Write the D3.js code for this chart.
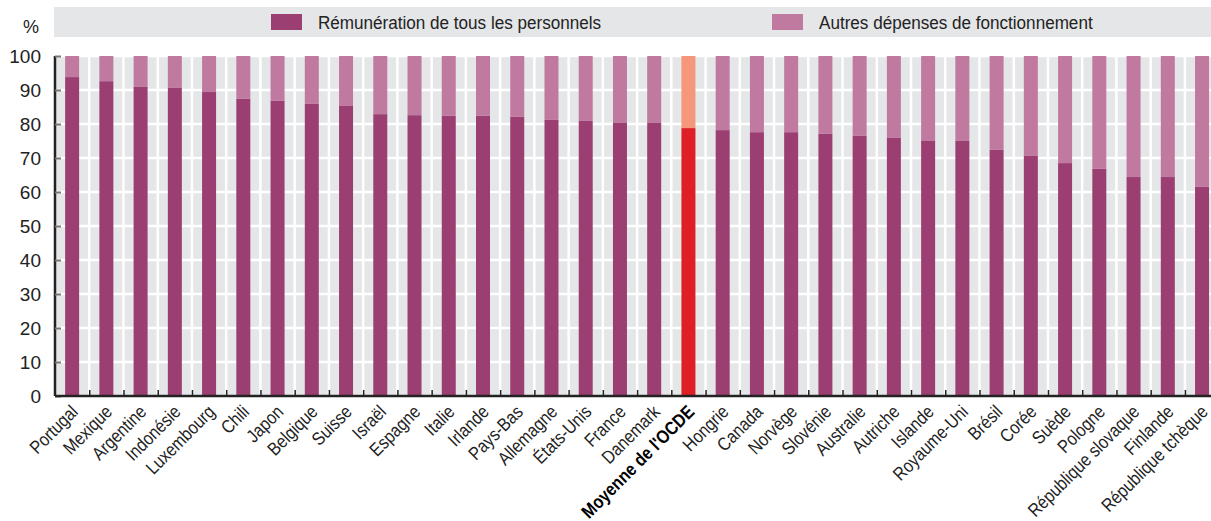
<!DOCTYPE html>
<html><head><meta charset="utf-8">
<script src="https://cdn.jsdelivr.net/npm/d3@7"></script>
<style>
body{margin:0;background:#fff;}
svg{display:block;font-family:"Liberation Sans","Arial",sans-serif;}
</style></head>
<body><svg id="c" width="1211" height="521"></svg>
<script>
const categories = ["Portugal","Mexique","Argentine","Indonésie","Luxembourg","Chili","Japon","Belgique","Suisse","Israël","Espagne","Italie","Irlande","Pays-Bas","Allemagne","États-Unis","France","Danemark","Moyenne de l'OCDE","Hongrie","Canada","Norvège","Slovénie","Australie","Autriche","Islande","Royaume-Uni","Brésil","Corée","Suède","Pologne","République slovaque","Finlande","République tchèque"];
const remuneration = [93.8,92.6,90.9,90.6,89.4,87.4,86.8,85.9,85.3,82.9,82.6,82.4,82.4,82.1,81.2,80.9,80.3,80.3,78.8,78.2,77.6,77.6,77.1,76.5,75.9,75.0,75.0,72.4,70.6,68.5,66.8,64.4,64.4,61.5];
const autres = remuneration.map(v => +(100 - v).toFixed(1));
const seriesNames = ["Rémunération de tous les personnels","Autres dépenses de fonctionnement"];
const yTicks = [0,10,20,30,40,50,60,70,80,90,100];
const highlight = "Moyenne de l'OCDE";

(function(){
const colDark = "#9b3e72", colLight = "#c07aa0", colHiDark = "#de1f25", colHiLight = "#f4977a";
const bg = "#e5e6e8";

const svg = d3.select("#c");
const pLeft = 55, pTop = 56, pBottom = 396, step = 34.24;
const pRight = pLeft + step * categories.length;

const x = d3.scaleBand().domain(categories).range([pLeft, pRight]).padding(0);
const xb = d3.scaleLinear().domain([0, categories.length]).range([pLeft, pRight]);
const y = d3.scaleLinear().domain([0, 100]).range([pBottom, pTop]);
const bw = 14;

// legend band
svg.append("rect").attr("x", 54).attr("y", 7).attr("width", 1211 - 54).attr("height", 30).attr("fill", bg);
const legend = [{n: seriesNames[0], c: colDark, x: 271}, {n: seriesNames[1], c: colLight, x: 772}];
legend.forEach(l => {
  svg.append("rect").attr("x", l.x).attr("y", 14).attr("width", 31).attr("height", 16).attr("fill", l.c);
  svg.append("text").attr("transform", `translate(${l.x + 47},28.5) scale(0.925,1)`)
    .attr("font-size", 18.5).attr("fill", "#222").text(l.n);
});

// plot background
svg.append("rect").attr("x", pLeft).attr("y", pTop).attr("width", pRight - pLeft).attr("height", pBottom - pTop).attr("fill", bg);
// horizontal grid
svg.append("g").selectAll("line").data(yTicks).join("line")
  .attr("x1", pLeft).attr("x2", pRight).attr("y1", d => y(d)).attr("y2", d => y(d))
  .attr("stroke", "#fff").attr("stroke-width", 2.5);
// vertical grid at category boundaries
svg.append("g").selectAll("line").data(d3.range(1, categories.length)).join("line")
  .attr("x1", d => xb(d)).attr("x2", d => xb(d)).attr("y1", pTop).attr("y2", pBottom)
  .attr("stroke", "#fff").attr("stroke-width", 2.5);

// bars
const g = svg.append("g");
categories.forEach((c, i) => {
  const hi = c === highlight;
  const cx = x(c) + x.bandwidth() / 2;
  g.append("rect").attr("x", cx - bw / 2).attr("width", bw)
    .attr("y", y(remuneration[i])).attr("height", y(0) - y(remuneration[i]))
    .attr("fill", hi ? colHiDark : colDark);
  g.append("rect").attr("x", cx - bw / 2).attr("width", bw)
    .attr("y", y(remuneration[i] + autres[i])).attr("height", y(remuneration[i]) - y(remuneration[i] + autres[i]))
    .attr("fill", hi ? colHiLight : colLight);
});

// y axis
const ya = svg.append("g").attr("transform", `translate(${pLeft},0)`)
  .call(d3.axisLeft(y).tickValues(yTicks).tickSize(-6).tickPadding(14));
ya.select(".domain").attr("stroke", "#222").attr("stroke-width", 2.5).attr("d", `M0,${pTop}V${pBottom}`);
ya.selectAll(".tick line").attr("stroke", "#777").attr("stroke-width", 2);
ya.selectAll(".tick text").attr("font-size", 19).attr("fill", "#222").attr("font-family", "Liberation Sans, Arial, sans-serif");
svg.append("text").attr("x", 31).attr("y", 33).attr("text-anchor", "middle").attr("font-size", 18).attr("fill", "#222").text("%");

// x axis boundary ticks
const xt = svg.append("g").attr("transform", `translate(0,${pBottom})`)
  .call(d3.axisBottom(xb).tickValues(d3.range(1, categories.length)).tickSize(-6).tickFormat(""));
xt.select(".domain").attr("stroke", "#222").attr("stroke-width", 2.5).attr("d", `M${pLeft},0H${pRight}`);
xt.selectAll(".tick line").attr("stroke", "#222").attr("stroke-width", 1.5);

// x labels
const xl = svg.append("g").attr("transform", `translate(0,${pBottom})`)
  .call(d3.axisBottom(x).tickSize(0).tickPadding(0));
xl.select(".domain").remove();
xl.selectAll(".tick text")
  .attr("font-size", 18.5)
  .attr("text-anchor", "end").attr("dy", 0).attr("y", 0)
  .attr("transform", "translate(7,17) rotate(-45) scale(0.86,1)")
  .attr("font-weight", d => d === highlight ? "bold" : "normal")
  .attr("fill", d => d === highlight ? "#000" : "#222")
  .attr("font-family", "Liberation Sans, Arial, sans-serif");
})();
</script></body></html>
